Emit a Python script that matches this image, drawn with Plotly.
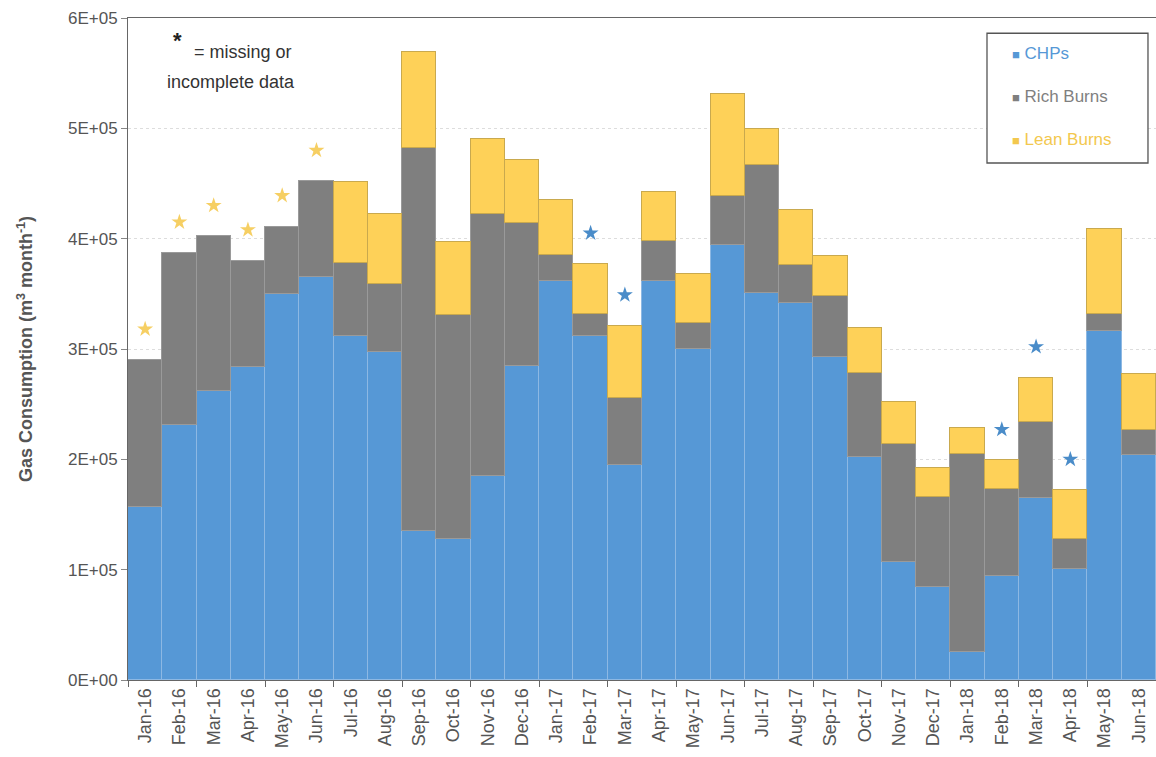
import plotly.graph_objects as go

months = ["Jan-16", "Feb-16", "Mar-16", "Apr-16", "May-16", "Jun-16",
          "Jul-16", "Aug-16", "Sep-16", "Oct-16", "Nov-16", "Dec-16",
          "Jan-17", "Feb-17", "Mar-17", "Apr-17", "May-17", "Jun-17",
          "Jul-17", "Aug-17", "Sep-17", "Oct-17", "Nov-17", "Dec-17",
          "Jan-18", "Feb-18", "Mar-18", "Apr-18", "May-18", "Jun-18"]

# Monthly gas consumption by engine type (m3 per month)
chps = [157000, 231000, 262000, 284000, 350000, 365000,
        312000, 297000, 135000, 128000, 185000, 285000,
        362000, 312000, 195000, 362000, 300000, 394000,
        351000, 342000, 293000, 202000, 107000, 84000,
        25000, 94000, 165000, 101000, 316000, 204000]
rich_burns = [133000, 156000, 140000, 96000, 61000, 87000,
              66000, 62000, 347000, 203000, 237000, 129000,
              23000, 20000, 61000, 36000, 24000, 45000,
              116000, 34000, 55000, 76000, 107000, 82000,
              180000, 79000, 69000, 27000, 16000, 23000]
lean_burns = [None, None, None, None, None, None,
              73000, 63000, 87000, 66000, 68000, 57000,
              50000, 45000, 65000, 44000, 44000, 92000,
              32000, 50000, 36000, 41000, 38000, 26000,
              23000, 26000, 40000, 44000, 77000, 50000]

# Months flagged with missing or incomplete data, by the series affected
missing_lean = ["Jan-16", "Feb-16", "Mar-16", "Apr-16", "May-16", "Jun-16"]
missing_chp = ["Feb-17", "Mar-17", "Feb-18", "Mar-18", "Apr-18"]

series_names = ["CHPs", "Rich Burns", "Lean Burns"]

y_ticks = [0, 100000, 200000, 300000, 400000, 500000, 600000]
y_tick_labels = ["0E+00", "1E+05", "2E+05", "3E+05", "4E+05", "5E+05", "6E+05"]

BLUE = "#5698d6"
GREY = "#7f7f7f"
YELLOW = "#fed158"
TEXT = "#555555"
FONT = "Liberation Sans, Arial, sans-serif"

totals = {}
for m, a, b, c in zip(months, chps, rich_burns, lean_burns):
    totals[m] = a + b + (c or 0)

star_gap = 28000

fig = go.Figure()
fig.add_trace(go.Bar(
    x=months, y=chps, name=series_names[0],
    marker=dict(color=BLUE, line=dict(color="#8db8e3", width=1))))
fig.add_trace(go.Bar(
    x=months, y=rich_burns, name=series_names[1],
    marker=dict(color=GREY, line=dict(color="#9a9a9a", width=1))))
fig.add_trace(go.Bar(
    x=months, y=lean_burns, name=series_names[2],
    marker=dict(color=YELLOW, line=dict(color="#c9a94e", width=1))))

fig.add_trace(go.Scatter(
    x=missing_lean, y=[totals[m] + star_gap for m in missing_lean],
    mode="markers", hoverinfo="skip",
    marker=dict(symbol="star", size=12, color="#f6cf63")))
fig.add_trace(go.Scatter(
    x=missing_chp, y=[totals[m] + star_gap for m in missing_chp],
    mode="markers", hoverinfo="skip",
    marker=dict(symbol="star", size=12, color="#4a8cc9")))

# Invisible trace carrying the secondary x axis used for paired tick marks
fig.add_trace(go.Scatter(x=[-0.5, 29.5], y=[0, 0], xaxis="x2",
                         mode="markers", marker=dict(opacity=0),
                         hoverinfo="skip"))

# Footnote explaining the star markers
fig.add_annotation(xref="paper", yref="paper", x=0.048, y=0.966,
                   text="<b>*</b>", showarrow=False,
                   font=dict(size=22, color="#222", family=FONT),
                   xanchor="center", yanchor="middle")
fig.add_annotation(xref="paper", yref="paper", x=0.062, y=0.948,
                   text="= missing or", showarrow=False,
                   font=dict(size=18, color="#333", family=FONT),
                   xanchor="left", yanchor="middle")
fig.add_annotation(xref="paper", yref="paper", x=0.036, y=0.903,
                   text="incomplete data", showarrow=False,
                   font=dict(size=18, color="#333", family=FONT),
                   xanchor="left", yanchor="middle")

# Legend box with small square keys
fig.add_shape(type="rect", xref="paper", yref="paper",
              x0=0.8356, x1=0.9922, y0=0.781, y1=0.977,
              line=dict(color="#555555", width=1.3), fillcolor="white")
for name, color, ypos in zip(series_names, [BLUE, GREY, "#f3c84e"],
                             [0.947, 0.881, 0.816]):
    fig.add_annotation(
        xref="paper", yref="paper", x=0.858, y=ypos,
        text='<span style="font-size:13px">■</span> %s' % name,
        showarrow=False, xanchor="left", yanchor="middle",
        font=dict(size=17, color=color, family=FONT))

fig.update_layout(
    width=1156, height=757,
    margin=dict(l=128, r=0, t=18, b=77),
    barmode="stack", bargap=0, showlegend=False,
    plot_bgcolor="white", paper_bgcolor="white",
    font=dict(family=FONT, color=TEXT),
    xaxis=dict(type="category", range=[-0.5, 29.5],
               tickangle=-90, tickfont=dict(size=18, color=TEXT),
               showline=True, linecolor="#666666", linewidth=1, mirror=True,
               ticks="", showgrid=False),
    xaxis2=dict(overlaying="x", range=[-0.5, 29.5], side="bottom",
                tickmode="linear", tick0=-0.5, dtick=2,
                ticks="outside", ticklen=6, tickcolor="#666666",
                showticklabels=False, showgrid=False, zeroline=False,
                showline=False),
    yaxis=dict(range=[0, 600000], tickvals=y_ticks, ticktext=y_tick_labels,
               tickfont=dict(size=17, color=TEXT),
               showline=True, linecolor="#666666", linewidth=1,
               ticks="outside", ticklen=6, tickcolor="#888888",
               showgrid=True, gridcolor="#dddddd", griddash="dot",
               zeroline=False,
               title=dict(text="<b>Gas Consumption (m<sup>3</sup> month<sup>-1</sup>)</b>",
                          font=dict(size=18, color=TEXT), standoff=30)),
)

fig.write_html("out.html")
